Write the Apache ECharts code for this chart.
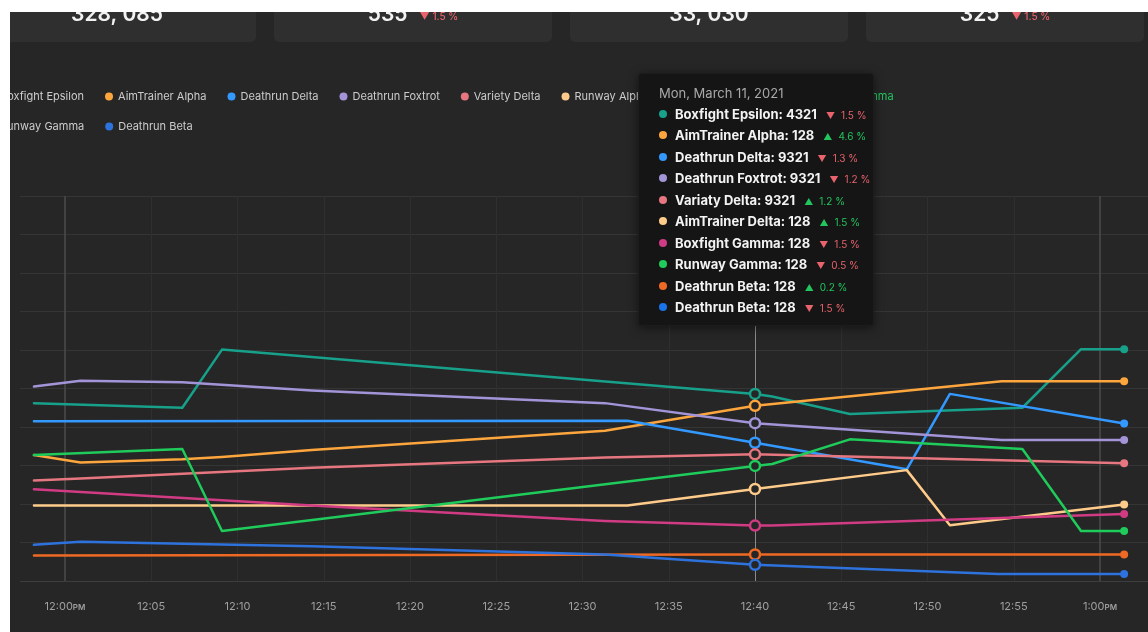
<!DOCTYPE html>
<html>
<head>
<meta charset="utf-8">
<script src="https://cdn.jsdelivr.net/npm/echarts@6/dist/echarts.min.js"></script>
<style>
  html, body { margin: 0; padding: 0; background: #ffffff; width: 1148px; height: 632px; overflow: hidden; }
  #panel { position: absolute; left: 10px; top: 12px; width: 1138px; height: 620px; background: #262626; overflow: hidden; }
  #chart { position: absolute; left: -50px; top: 0; width: 1240px; height: 620px; }
</style>
</head>
<body>
<div id="panel"><div id="chart"></div></div>
<script>
// ---------- DATA (x = minutes after 12:00 PM, y = relative value) ----------
const legendRow1 = ['Boxfight Epsilon', 'AimTrainer Alpha', 'Deathrun Delta', 'Deathrun Foxtrot', 'Variety Delta', 'Runway Alpha', 'Boxfight Gamma', 'Deathrun Gamma'];
const legendRow2 = ['Runway Gamma', 'Deathrun Beta'];
const seriesNames = ['Boxfight Epsilon', 'AimTrainer Alpha', 'Deathrun Delta', 'Deathrun Foxtrot', 'Variety Delta', 'Runway Alpha', 'Boxfight Gamma', 'Deathrun Gamma', 'Runway Gamma', 'Deathrun Beta'];
const seriesColors = ['#17a08a', '#fda63d', '#3399ff', '#a394d8', '#e6767f', '#ffcb8a', '#d13b84', '#1fcb5b', '#ee6a24', '#2d72dd'];

const epsilonT = [-1.8, 6.8, 9.1, 40, 41, 45.5, 55.5, 58.9, 61.4];
const epsilonV = [46.2, 45.0, 60.1, 48.6, 47.9, 43.4, 45.0, 60.2, 60.2];
const aimAlphaT = [-1.8, 0.9, 6.8, 9.1, 14.3, 31.3, 40, 54.3, 61.4];
const aimAlphaV = [32.7, 30.8, 31.6, 32.2, 34.0, 39.0, 45.5, 51.9, 51.9];
const deltaT = [-1.8, 32.6, 40, 48.8, 51.3, 61.4];
const deltaV = [41.5, 41.6, 35.9, 29.0, 48.6, 40.9];
const foxtrotT = [-1.8, 0.9, 6.8, 14.3, 31.3, 40, 54.3, 61.4];
const foxtrotV = [50.5, 52.0, 51.6, 49.5, 46.2, 41.0, 36.6, 36.6];
const varietyT = [-1.8, 0.9, 14.3, 31.3, 40, 61.4];
const varietyV = [26.1, 26.6, 29.4, 32.1, 32.9, 30.6];
const runwayAlphaT = [-1.8, 32.6, 40, 48.8, 51.3, 61.4];
const runwayAlphaV = [19.6, 19.6, 23.9, 28.8, 14.5, 19.9];
const gammaBoxT = [-1.8, 14.3, 31.3, 40, 41, 61.4];
const gammaBoxV = [23.8, 19.6, 15.6, 14.4, 14.4, 17.4];
const gammaDeathT = [-1.8, 6.8, 9.1, 40, 41, 45.5, 55.5, 58.9, 61.4];
const gammaDeathV = [32.7, 34.3, 13.0, 29.9, 30.4, 36.8, 34.3, 13.0, 13.0];
const runwayGammaT = [-1.8, 40, 61.4];
const runwayGammaV = [6.6, 6.9, 6.9];
const betaT = [-1.8, 0.9, 14.3, 31.3, 40, 54.1, 61.4];
const betaV = [9.4, 10.2, 9.0, 6.9, 4.2, 1.8, 1.8];

const seriesTimes = [epsilonT, aimAlphaT, deltaT, foxtrotT, varietyT, runwayAlphaT, gammaBoxT, gammaDeathT, runwayGammaT, betaT];
const seriesValues = [epsilonV, aimAlphaV, deltaV, foxtrotV, varietyV, runwayAlphaV, gammaBoxV, gammaDeathV, runwayGammaV, betaV];

const hoverMinute = 40;
const boundaryMinutes = [0, 60];

const tooltipTitle = 'Mon, March 11, 2021';
const tooltipNames = ['Boxfight Epsilon', 'AimTrainer Alpha', 'Deathrun Delta', 'Deathrun Foxtrot', 'Variaty Delta', 'AimTrainer Delta', 'Boxfight Gamma', 'Runway Gamma', 'Deathrun Beta', 'Deathrun Beta'];
const tooltipValues = [4321, 128, 9321, 9321, 9321, 128, 128, 128, 128, 128];
const tooltipChanges = [-1.5, 4.6, -1.3, -1.2, 1.2, 1.5, -1.5, -0.5, 0.2, -1.5];
const tooltipColors = ['#17a08a', '#fda63d', '#3399ff', '#a394d8', '#e6767f', '#ffcb8a', '#d13b84', '#1fcb5b', '#ee6a24', '#1a73e8'];

const cardValues = ['328, 085', '535', '33, 030', '325'];
const cardChanges = [null, -1.5, null, -1.5];

// ---------- BUILD ----------
const FONT = 'Inter, "Noto Sans", sans-serif';
const UP = '#22c55e', DOWN = '#e8636c';
const BG = '#262626';

function measure(text, font) {
  const c = document.createElement('canvas').getContext('2d');
  c.font = font;
  return c.measureText(text).width;
}

const graphics = [];
// cards (chart coords = page coords + (40, -12))
const cardLeftPage = [-22, 274, 570, 866];
const cardW = 278;
cardValues.forEach((v, i) => {
  const x = cardLeftPage[i] + 40;
  graphics.push({ type: 'rect', shape: { x: x, y: -30, width: cardW, height: 60, r: 5 }, style: { fill: '#2f2f2f' }, silent: true, z: 1 });
  const vw = measure(v, '600 21px Inter');
  const ch = cardChanges[i];
  const dStr = ch == null ? '' : (ch > 0 ? '▲ ' : '▼ ') + Math.abs(ch).toFixed(1) + ' %';
  const dw = ch == null ? 0 : measure(dStr, '500 10px Inter');
  const gap = ch == null ? 0 : 12;
  const start = x + cardW / 2 - (vw + gap + dw) / 2;
  graphics.push({ type: 'text', silent: true, z: 2, style: { text: v, x: start, y: 2.6, fill: '#f2f2f2', fontSize: 21, fontWeight: 600, fontFamily: FONT, align: 'left', verticalAlign: 'middle' } });
  if (ch != null) {
    graphics.push({ type: 'text', silent: true, z: 2, style: { text: dStr, x: start + vw + gap, y: 5.4, fill: ch > 0 ? UP : DOWN, fontSize: 10, fontWeight: 500, fontFamily: FONT, align: 'left', verticalAlign: 'middle' } });
  }
});
// cover strip between panel edge and plot start
graphics.push({ type: 'rect', shape: { x: 50, y: 176, width: 10, height: 410 }, style: { fill: BG }, silent: true, z: 100 });

const series = seriesNames.map((name, s) => {
  const T = seriesTimes[s], V = seriesValues[s], color = seriesColors[s];
  const data = T.map((t, i) => {
    const item = { value: [t, V[i]] };
    if (t === hoverMinute) {
      item.symbol = 'circle'; item.symbolSize = 10;
      item.itemStyle = { color: BG, borderColor: color, borderWidth: 2.5 };
    } else if (i === T.length - 1) {
      item.symbol = 'circle'; item.symbolSize = 8;
      item.itemStyle = { color: color, borderWidth: 0 };
    }
    return item;
  });
  return {
    name: name, type: 'line', data: data, symbol: 'none', showSymbol: true, showAllSymbol: true,
    color: color, z: 3, silent: false,
    lineStyle: { width: 2.5, color: color, cap: 'round', join: 'round' },
    itemStyle: { color: color },
    emphasis: { disabled: true }
  };
});
// vertical reference lines
series.push({
  name: '_ref', type: 'line', data: [], z: 1, silent: true,
  markLine: {
    silent: true, symbol: ['none', 'none'], label: { show: false }, z: 1,
    lineStyle: { color: '#4b4b4b', width: 1.5, type: 'solid' },
    data: boundaryMinutes.map(m => ({ xAxis: m }))
      .concat([{ xAxis: hoverMinute, lineStyle: { color: '#8a8a8a', width: 1, type: 'solid' } }])
  }
});

function tooltipHtml() {
  let h = '<div style="font-family:' + FONT.replace(/"/g, "'") + ';">';
  h += '<div style="color:#a9a9a9;font-size:13px;line-height:20px;height:20px;">' + tooltipTitle + '</div>';
  tooltipNames.forEach((n, i) => {
    const ch = tooltipChanges[i], col = ch > 0 ? UP : DOWN;
    h += '<div style="line-height:21.44px;height:21.44px;white-space:nowrap;">' +
      '<span style="display:inline-block;width:8px;height:8px;border-radius:50%;background:' + tooltipColors[i] + ';margin-right:8px;vertical-align:1px;"></span>' +
      '<span style="color:#f3f3f3;font-weight:700;font-size:13px;">' + n + ': ' + tooltipValues[i] + '</span>' +
      '<span style="color:' + col + ';font-size:9px;margin-left:9px;">' + (ch > 0 ? '▲' : '▼') + '</span>' +
      '<span style="color:' + col + ';font-size:10px;margin-left:6px;">' + Math.abs(ch).toFixed(1) + ' %</span>' +
      '</div>';
  });
  return h + '</div>';
}

function timeLabel(v) {
  const total = 12 * 60 + Math.round(v);
  let hh = Math.floor(total / 60), mm = total % 60;
  const h12 = ((hh + 11) % 12) + 1;
  const mmS = (mm < 10 ? '0' : '') + mm;
  if (mm === 0) return '{t|' + h12 + ':' + mmS + '}{p|PM}';
  return '{t|' + h12 + ':' + mmS + '}';
}

const legendBase = {
  icon: 'circle', itemWidth: 8, itemHeight: 8, itemGap: 21, padding: 0, selectedMode: false,
  orient: 'horizontal', textStyle: { color: '#cccccc', fontSize: 11, fontFamily: FONT }
};

const chart = echarts.init(document.getElementById('chart'), null, { renderer: 'canvas' });
chart.setOption({
  animation: false,
  backgroundColor: 'transparent',
  textStyle: { fontFamily: FONT },
  graphic: graphics,
  legend: [
    Object.assign({}, legendBase, { left: 27, top: 79, data: legendRow1.map(n => n === 'Deathrun Gamma' ? { name: n, textStyle: { color: UP } } : { name: n }) }),
    Object.assign({}, legendBase, { left: 27, top: 109, data: legendRow2.map(n => ({ name: n })) })
  ],
  grid: { left: 18.75, right: 13.75, top: 184, bottom: 51, containLabel: false },
  xAxis: {
    type: 'value', min: -5, max: 65, interval: 5,
    axisLine: { show: true, lineStyle: { color: '#3d3d3d', width: 1 } },
    axisTick: { show: false },
    splitLine: { show: true, lineStyle: { color: '#2f2f2f', width: 1 } },
    axisLabel: {
      margin: 20, color: '#a0a0a0', fontSize: 11, fontFamily: FONT,
      formatter: timeLabel,
      rich: { t: { color: '#a0a0a0', fontSize: 11, fontFamily: FONT }, p: { color: '#a0a0a0', fontSize: 8, fontWeight: 600, fontFamily: FONT, padding: [2, 0, 0, 0] } }
    }
  },
  yAxis: {
    type: 'value', min: 0, max: 100, interval: 10,
    axisLine: { show: false }, axisTick: { show: false }, axisLabel: { show: false },
    splitLine: { show: true, lineStyle: { color: '#353535', width: 1 } }
  },
  tooltip: {
    trigger: 'item', triggerOn: 'none', alwaysShowContent: true, transitionDuration: 0,
    backgroundColor: '#151515', borderColor: '#1c1c1c', borderWidth: 1, borderRadius: 4,
    padding: [9, 3, 8, 20],
    extraCssText: 'box-shadow: 0 2px 10px rgba(0,0,0,0.5);',
    position: function () { return [678, 61]; },
    formatter: tooltipHtml
  },
  series: series
});
chart.dispatchAction({ type: 'showTip', seriesIndex: 0, dataIndex: epsilonT.indexOf(hoverMinute) });
</script>
</body>
</html>
